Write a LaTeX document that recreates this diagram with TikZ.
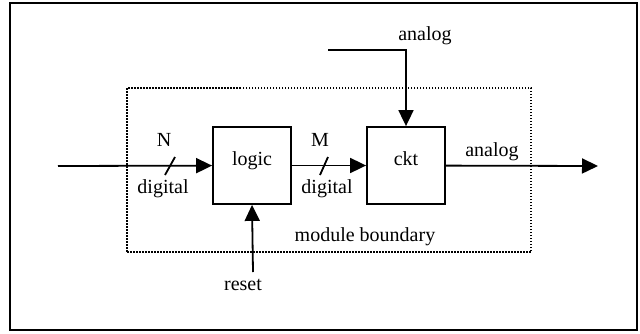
\documentclass[tikz,border=0pt]{standalone}
\usepackage{fontspec}
\setmainfont{Liberation Serif}
\usetikzlibrary{arrows.meta, positioning}

\begin{document}
\begin{tikzpicture}[x=1pt, y=-1pt, line width=1.8pt,
    block/.style={draw, rectangle, minimum width=78pt, minimum height=77pt, inner sep=0pt, text height=13pt, text depth=13pt, font=\fontsize{20}{23}\selectfont},
    sig/.style={-{Triangle[length=16pt, width=15pt]}},
    lbl/.style={inner sep=0pt, font=\fontsize{20}{23}\selectfont}]
    \useasboundingbox (0,0) rectangle (640,333);

    % Marco exterior
    \draw (10,3) rectangle (637,330);

    % Frontera del modulo
    \node (boundary) [draw, dash pattern=on 1.5pt off 1.5pt, rectangle, minimum width=404pt, minimum height=164pt, inner sep=0pt] at (329,170) {};
    \node (boundlbl) [lbl] at (365,237) {module boundary};

    % Bloques
    \node (logic) [block] at (252,165.5) {logic};
    \node (ckt) [block] at (406,165.5) {ckt};

    % Extremos libres
    \coordinate (din) at (58,166);
    \coordinate (aout) at (598,166);
    \coordinate (ain) at (328,50);
    \coordinate (rst) at (253,272);

    % Conexiones
    \draw[sig] (din) -- (logic);
    \draw[sig] (logic) -- (ckt);
    \draw[sig] (ckt) -- (aout);
    \draw[sig] (ain) -| (ckt.north);
    \draw[sig] (rst) -- (logic.south);

    % Marcas de bus
    \draw (165,175) -- (175,157);
    \draw (320,175) -- (328,157);

    % Etiquetas
    \node (nlbl) [lbl] at (164,140) {N};
    \node (dig1) [lbl] at (163,189) {digital};
    \node (mlbl) [lbl] at (320,140) {M};
    \node (dig2) [lbl] at (327,189) {digital};
    \node (aoutlbl) [lbl] at (492,152) {analog};
    \node (ainlbl) [lbl] at (425,36) {analog};
    \node (rstlbl) [lbl] at (243,285) {reset};
\end{tikzpicture}
\end{document}
